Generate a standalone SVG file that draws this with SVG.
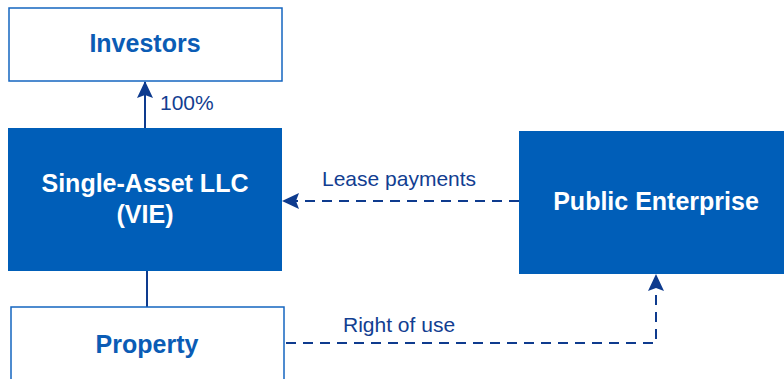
<svg xmlns="http://www.w3.org/2000/svg" width="784" height="379" viewBox="0 0 784 379">
<style>
.outline{fill:#fff;stroke:#1565C0;stroke-width:1.5}
.solid{fill:#005EB8;stroke:none}
.t{font-family:"Liberation Sans",Arial,sans-serif;font-weight:bold;font-size:25px;text-anchor:middle}
.tb{fill:#0B5CB5}
.tw{fill:#fff}
.lbl{font-family:"Liberation Sans",Arial,sans-serif;font-size:21px;fill:#123E91}
.c{fill:none;stroke:#0E3B8E;stroke-width:2}
.d{stroke-dasharray:10,7}
</style>
<defs>
<marker id="ah2" markerWidth="17" markerHeight="17" refX="16" refY="8" orient="auto" markerUnits="userSpaceOnUse" viewBox="0 0 17 16">
<path d="M0,0 L17,8 L0,16 L3,8 Z" fill="#0E3B8E"/>
</marker>
</defs>
<g id="connectors">
<line class="c" x1="145" y1="128" x2="145" y2="82" marker-end="url(#ah2)"/>
<line class="c" x1="147" y1="271" x2="147" y2="307"/>
<line class="c d" x1="519" y1="201" x2="283" y2="201" marker-end="url(#ah2)"/>
<polyline class="c d" points="286,343 656,343 656,275" marker-end="url(#ah2)"/>
<text class="lbl" x="160" y="110">100%</text>
<text class="lbl" x="322" y="186">Lease payments</text>
<text class="lbl" x="343" y="332">Right of use</text>
</g>
<g id="investors">
<rect class="outline" x="9" y="8" width="273" height="73"/>
<text class="t tb" x="145" y="52">Investors</text>
</g>
<g id="llc">
<rect class="solid" x="8" y="128" width="274" height="143"/>
<text class="t tw" x="145" y="192">Single-Asset LLC</text>
<text class="t tw" x="145" y="223">(VIE)</text>
</g>
<g id="public">
<rect class="solid" x="519" y="131" width="266" height="143"/>
<text class="t tw" x="656" y="210">Public Enterprise</text>
</g>
<g id="property">
<rect class="outline" x="11" y="307" width="273" height="80"/>
<text class="t tb" x="147" y="353">Property</text>
</g>
</svg>
